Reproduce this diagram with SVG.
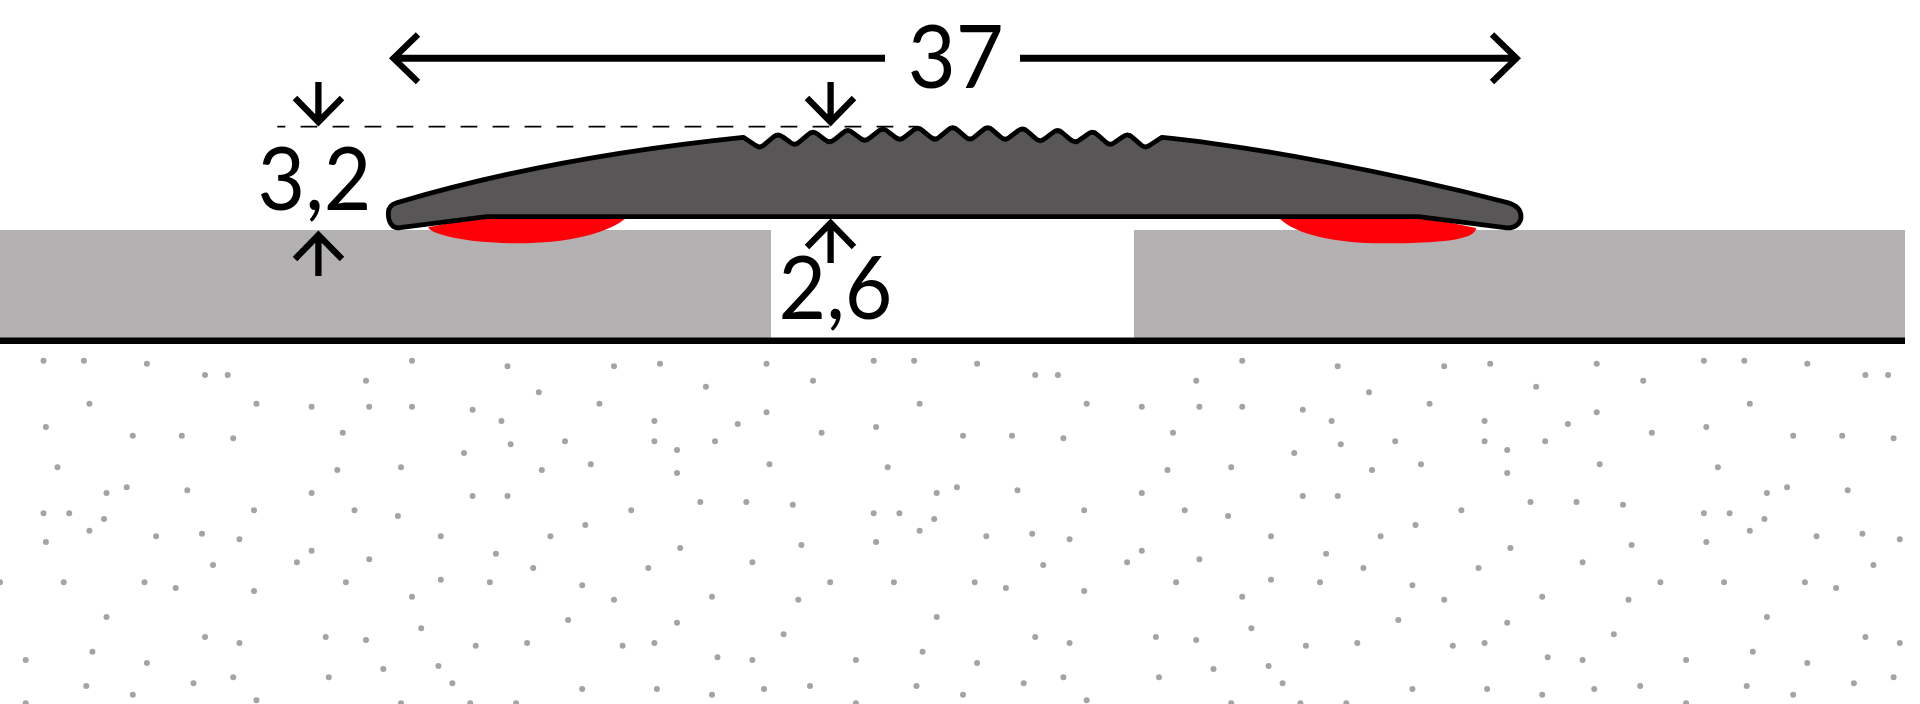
<svg xmlns="http://www.w3.org/2000/svg" width="1920" height="704" viewBox="0 0 1920 704">
<style>
.dim{fill:none;stroke:#000;stroke-width:6.3}
.lbl{font-family:"Lato","Open Sans",sans-serif;fill:#000;font-size:88px}
.slab{fill:#b3b1b2}
.glue{fill:#ff0009}
</style>
<defs>
<clipPath id="c"><rect x="0" y="344" width="1905" height="360"/></clipPath>
<path id="dots" fill="none" stroke="#a4a4a4" stroke-width="6" stroke-linecap="round" d="M43.5 360.7h.01M83.9 360.7h.01M412 360.7h.01M146.9 363.7h.01M660 363.7h.01M766.5 363.7h.01M507.5 366.3h.01M614 366.3h.01M205 375h.01M227.7 375h.01M366 380.7h.01M813 380.7h.01M705.9 386.7h.01M538.8 392.3h.01M89.4 403.7h.01M256.5 403.7h.01M599.4 403.7h.01M311.6 406.7h.01M369.2 406.7h.01M412 406.7h.01M472.6 409.7h.01M766.5 412.3h.01M501.4 421h.01M654.4 421h.01M737.7 424h.01M45.9 427h.01M342.8 432.7h.01M821.6 432.7h.01M132.8 435.7h.01M181.8 435.7h.01M233.2 438.3h.01M565 441.3h.01M654.4 441.3h.01M715 441.3h.01M510.6 444.3h.01M677 450h.01M464 453h.01M590.8 464.3h.01M769.5 464.3h.01M57.5 467.3h.01M401 467.3h.01M337.3 470h.01M541.8 470h.01M677 473h.01M126.7 487.3h.01M187.3 490.3h.01M106.5 493h.01M311.6 493h.01M472.6 496h.01M507.5 496h.01M700.3 502h.01M746.3 502h.01M792.8 504.7h.01M254 510.3h.01M354.5 510.3h.01M631.2 510.3h.01M43.5 513.3h.01M69.2 513.3h.01M397.9 516h.01M104 519h.01M585.3 525h.01M89.4 530.7h.01M202 533.7h.01M156.1 536.3h.01M440.8 536.3h.01M550.4 536.3h.01M239.4 539.3h.01M45.9 542h.01M801.4 545h.01M680.2 548h.01M311.6 550.7h.01M495.9 553.7h.01M369.2 559.3h.01M296.9 562.3h.01M752.4 562.3h.01M213 565h.01M533.2 568h.01M648.3 568h.01M440.8 579.7h.01M0 582.3h.01M63.7 582.3h.01M144.5 582.3h.01M345.9 582.3h.01M489.8 582.3h.01M582.2 585.3h.01M175.7 588h.01M254 591h.01M412 596.7h.01M712 596.7h.01M614 599.7h.01M798.3 599.7h.01M106.5 617h.01M568.1 620h.01M677 622.7h.01M421.2 628.3h.01M783.6 634.3h.01M205 637h.01M325.7 637h.01M366 640h.01M239.4 643h.01M527.1 643h.01M654.4 643h.01M475.7 645.7h.01M622.6 645.7h.01M92.4 651.7h.01M717.5 657.3h.01M25.7 660h.01M752.4 660h.01M146.9 663h.01M438.4 666h.01M383.3 669h.01M233.2 677.3h.01M328.8 677.3h.01M193.5 683.3h.01M452.4 683.3h.01M86.3 686h.01M810 686h.01M582.2 689h.01M656.9 689h.01M764 689h.01M132.8 694.7h.01M712 694.7h.01M256.5 700.3h.01M25.7 703.3h.01M401 703.3h.01M470.2 703.3h.01M516.1 703.3h.01"/>
</defs>
<rect width="1920" height="704" fill="#fff"/>
<g id="substrate" clip-path="url(#c)">
<use href="#dots"/><use href="#dots" x="830.2"/><use href="#dots" x="1660.4"/>
</g>
<g id="floor-left"><rect class="slab" x="0" y="230" width="771" height="108"/></g>
<g id="floor-right"><rect class="slab" x="1134" y="230" width="771" height="108"/></g>
<g id="base-line"><rect x="0" y="337.5" width="1905" height="6.5" fill="#000"/></g>
<g id="adhesive-left"><path class="glue" d="M428.300 227.300C431 235 470 243.300 516.700 243.300C570 243.300 608 233 626 218L486 216Z"/></g>
<g id="adhesive-right"><path class="glue" d="M1279 218C1296 235 1336 243.300 1383 243.300C1440 243.300 1476 240 1476 228L1418 216Z"/></g>
<g id="dashed-line"><path d="M277.300 126.700H917" fill="none" stroke="#000" stroke-width="1.700" stroke-dasharray="16.700 15.300" stroke-dashoffset="8.700"/></g>
<g id="profile">
<path fill="#585657" stroke="#000" stroke-width="4.800" stroke-linejoin="round" d="M396.700 202.700C500 172 620 150 743.300 137.300L755.300 145.200Q760 149.100 764.900 144.100L772.800 137.500Q777.700 132.700 782.600 136.800L790.100 142.200Q795 146.500 799.900 141.500L807.800 134.900Q812.700 130.100 817.600 134.200L825.100 139.800Q830 144.100 834.900 139.300L842.800 133Q847.700 128.400 852.600 132.600L860.100 138.100Q865 142.500 869.900 137.800L877.800 131.600Q882.700 127.100 887.600 131.300L895.100 137.100Q900 141.500 904.900 136.800L912.800 130.600Q917.700 126.100 922.600 130.600L930.100 136.800Q935 141.500 939.900 136.600L947.800 130.100Q952.700 125.400 957.600 130.100L965.100 136.600Q970 141.500 974.900 136.600L982.800 130.100Q987.700 125.400 992.600 130.100L1000.100 136.600Q1005 141.500 1009.900 137L1017.800 131Q1022.700 126.700 1027.600 131.500L1035.100 138.100Q1040 143.100 1044.900 138.600L1052.800 132.700Q1057.700 128.400 1062.600 133L1070.100 139.300Q1075 144.100 1079.900 139.800L1087.800 134.200Q1092.700 130.100 1097.600 134.900L1105.100 141.500Q1110 146.500 1114.900 142.200L1122.800 136.800Q1127.700 132.700 1132.600 137.500L1140.100 144.100Q1145 149.100 1149.800 145.200L1162 137.300C1250 146 1390 172 1508.300 202.700C1516 205 1521 210 1521 216.700C1521 223 1515 229 1505 227.700L1418.300 216.700H486.700L400 227.700C392 229 388.300 222 388.300 213C388.300 208 391 204.500 396.700 202.700Z"/>
</g>
<g id="connectors">
<path class="dim" style="stroke-width:7" d="M885 58.200H393M1020 58.200H1517"/>
<path class="dim" d="M418 34.500L393.500 58.200L418 82"/>
<path class="dim" d="M1492 34.500L1516.500 58.200L1492 82"/>
<path class="dim" d="M318.400 82V122M295 98L318.400 122L342 98"/>
<path class="dim" d="M830.600 82V122M807 98L830.600 122L854 98"/>
<path class="dim" d="M318.400 276V235M295 259L318.400 235L342 259"/>
<path class="dim" d="M830.600 263V223M807 247L830.600 223L854 247"/>
</g>
<g id="label-37"><text class="lbl" x="955.700" y="88" text-anchor="middle" textLength="96" lengthAdjust="spacingAndGlyphs">37</text></g>
<g id="label-32"><text class="lbl" x="314.500" y="210" text-anchor="middle" textLength="114" lengthAdjust="spacingAndGlyphs">3,2</text></g>
<g id="label-26"><text class="lbl" x="835.500" y="319" text-anchor="middle" textLength="114" lengthAdjust="spacingAndGlyphs">2,6</text></g>
</svg>
